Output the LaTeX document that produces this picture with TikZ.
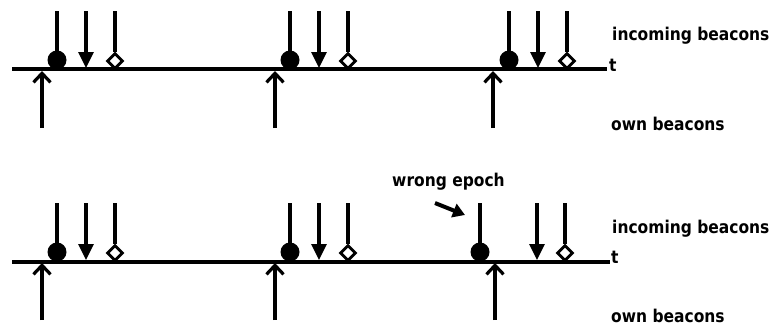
\documentclass[tikz,border=0pt]{standalone}
\usepackage{fontspec}
\setmainfont{DejaVu Sans}
\newfontfamily\lblfont{DejaVu Sans Bold}[FakeStretch=0.88]
\usetikzlibrary{arrows.meta,shapes.geometric}
\begin{document}
\begin{tikzpicture}[x=1pt,y=-1pt,
  axis/.style={line width=3.4pt},
  stem/.style={line width=3.2pt},
  rx/.style={stem,-{Triangle[length=16pt,width=15pt]}},
  tx/.style={stem,-{Straight Barb[length=9pt,width=17pt]}},
  ball/.style={circle,fill=black,minimum size=19pt,inner sep=0pt},
  dia/.style={diamond,draw,fill=white,line width=2.8pt,minimum width=16pt,minimum height=16pt,inner sep=0pt},
  lbl/.style={font=\lblfont\fontsize{17.6}{20}\selectfont,anchor=base west,inner sep=0pt},
  ptr/.style={line width=4pt,-{Triangle[length=12pt,width=14pt]}}
]
\useasboundingbox (0,0) rectangle (775,325);

% time axes
\coordinate (w1) at (12,69);  \coordinate (e1) at (607,69);
\coordinate (w2) at (12,262); \coordinate (e2) at (610,262);
\draw[axis] (w1) -- (e1);
\draw[axis] (w2) -- (e2);
\node[lbl] (t1) at (609,71) {t};
\node[lbl] (t2) at (611,263) {t};

% beacon groups: row offset / name / own / ball / arrow / diamond
\foreach \dy/\n/\o/\b/\r/\d in {0/a/42/57/86/115, 0/b/275/290/319/348, 0/c/493/509/538/567,
                               192/d/42/57/86/115, 192/e/275/290/319/348, 192/f/495/480/537/565}{
  % incoming beacon, first kind (dot)
  \node[ball] (ball\n) at (\b,{60+\dy}) {};
  \coordinate (balltop\n) at (\b,{11+\dy});
  \draw[stem] (balltop\n) -- (ball\n.center);
  % incoming beacon, second kind (arrow)
  \coordinate (rxtop\n) at (\r,{11+\dy});
  \coordinate (rxend\n) at (\r,{68+\dy});
  \draw[rx] (rxtop\n) -- (rxend\n);
  % incoming beacon, third kind (diamond)
  \node[dia] (dia\n) at (\d,{61+\dy}) {};
  \coordinate (diatop\n) at (\d,{11+\dy});
  \draw[stem] (diatop\n) -- (dia\n.north);
  % own beacon
  \coordinate (txbot\n) at (\o,{128+\dy});
  \coordinate (txend\n) at (\o,{71+\dy});
  \draw[tx] (txbot\n) -- (txend\n);
}

% labels
\node[lbl] (in1) at (612,40.5) {incoming beacons};
\node[lbl] (own1) at (611,130) {own beacons};
\node[lbl] (in2) at (612,233) {incoming beacons};
\node[lbl] (own2) at (611,322) {own beacons};

% wrong epoch marker
\node[lbl] (we) at (392,186) {wrong epoch};
\coordinate (wefrom) at (435,203);
\coordinate (weto) at (465,215);
\draw[ptr] (wefrom) -- (weto);
\end{tikzpicture}
\end{document}
